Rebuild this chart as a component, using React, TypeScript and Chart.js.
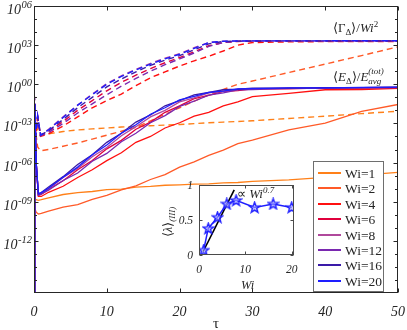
import React, { useEffect, useRef } from "react";
import { Chart, registerables } from "chart.js";

Chart.register(...registerables);

const FONT = '"Liberation Serif", "Times New Roman", serif';
const AXIS_COLOR = "#262626";

// ---- series meta ----
const wiValues = [1, 2, 4, 6, 8, 12, 16, 20];
const wiColors = ["#ff8019", "#ff5a28", "#ff1010", "#e0003c", "#b0489c", "#7a28b0", "#3a1aa8", "#1e1eff"];

// ---- solid curves: <E_Δ>/E_avg^(tot), stored as log10 values ----
const tauSolid = [0, 0.1, 0.3, 0.6, 1, 2, 4, 6, 8, 10, 12, 14, 16, 18, 20, 22, 24, 26, 28, 30, 35, 40, 45, 50];
const energyLog10Wi1 = [-8.6, -8.75, -8.85, -8.9, -8.85, -8.7, -8.45, -8.3, -8.22, -8.08, -8.03, -7.88, -7.83, -7.74, -7.71, -7.66, -7.63, -7.56, -7.53, -7.44, -7.33, -7.13, -6.96, -6.75];
const energyLog10Wi2 = [-9.0, -9.5, -9.8, -9.95, -9.9, -9.72, -9.42, -9.22, -8.82, -8.52, -8.1, -7.78, -7.3, -6.93, -6.35, -5.95, -5.45, -5.05, -4.55, -4.28, -3.5, -2.98, -2.08, -1.55];
const energyLog10Wi4 = [-17, -1.5, -6.0, -8.6, -8.6, -8.28, -7.82, -7.15, -6.55, -5.85, -5.25, -4.45, -4.0, -3.35, -2.95, -2.45, -2.15, -1.65, -1.35, -0.95, -0.7, -0.42, -0.4, -0.32];
const energyLog10Wi6 = [-17, -1.5, -6.0, -8.5, -8.45, -8.05, -7.4, -6.55, -5.85, -4.95, -4.3, -3.45, -2.9, -2.15, -1.65, -1.1, -0.85, -0.55, -0.48, -0.36, -0.35, -0.28, -0.3, -0.26];
const energyLog10Wi8 = [-17, -1.5, -6.0, -8.5, -8.4, -8.02, -7.15, -6.45, -5.55, -4.85, -3.95, -3.25, -2.5, -2.0, -1.35, -1.05, -0.66, -0.55, -0.37, -0.37, -0.29, -0.3, -0.25, -0.24];
const energyLog10Wi12 = [-17, -1.5, -6.0, -8.5, -8.4, -8.12, -7.38, -6.8, -5.9, -5.3, -4.4, -3.75, -2.95, -2.4, -1.7, -1.3, -0.84, -0.66, -0.43, -0.4, -0.31, -0.32, -0.26, -0.25];
const energyLog10Wi16 = [-17, -1.5, -6.0, -8.4, -8.3, -7.88, -7.08, -6.15, -5.4, -4.45, -3.75, -2.9, -2.35, -1.65, -1.25, -0.82, -0.63, -0.42, -0.38, -0.3, -0.3, -0.25, -0.25, -0.22];
const energyLog10Wi20 = [-17, -1.5, -6.0, -8.4, -8.3, -7.97, -7.12, -6.35, -5.4, -4.65, -3.75, -3.1, -2.3, -1.8, -1.2, -0.93, -0.62, -0.52, -0.36, -0.34, -0.28, -0.28, -0.24, -0.22];

// ---- dashed curves: <Γ_Δ>/Wi^2, stored as log10 values ----
const tauDashed = [0, 0.2, 0.5, 0.9, 2, 4, 6, 8, 10, 12, 14, 16, 18, 20, 22, 24, 26, 28, 30, 35, 40, 45, 50];
const gammaLog10Wi1 = [-0.8, -2.5, -3.6, -3.9, -3.8, -3.62, -3.5, -3.42, -3.35, -3.28, -3.22, -3.18, -3.13, -3.08, -3.02, -2.95, -2.9, -2.85, -2.8, -2.62, -2.45, -2.25, -2.07];
const gammaLog10Wi2 = [-1.5, -3.5, -4.8, -5.1, -5.0, -4.75, -4.5, -4.2, -3.9, -3.6, -3.3, -2.8, -2.3, -1.8, -1.3, -0.8, -0.4, 0.0, 0.25, 0.9, 1.55, 2.2, 2.87];
const gammaLog10Wi4 = [0, -4.1, -2.6, -4.0, -3.8, -3.2, -2.5, -1.8, -1.25, -0.75, -0.1, 0.5, 0.95, 1.4, 1.8, 2.15, 2.55, 3.0, 3.2, 3.25, 3.27, 3.27, 3.28];
const gammaLog10Wi6 = [0, -4.0, -2.5, -3.95, -3.6, -2.85, -2.0, -1.25, -0.5, 0.15, 0.7, 1.2, 1.65, 2.05, 2.5, 2.95, 3.2, 3.28, 3.3, 3.31, 3.31, 3.32, 3.32];
const gammaLog10Wi8 = [0, -4.0, -2.4, -3.9, -3.45, -2.5, -1.6, -0.75, 0.05, 0.65, 1.15, 1.6, 2.0, 2.35, 2.8, 3.2, 3.3, 3.31, 3.32, 3.33, 3.33, 3.33, 3.33];
const gammaLog10Wi12 = [0, -4.0, -2.5, -3.95, -3.7, -3.0, -2.2, -1.5, -0.8, -0.15, 0.45, 1.0, 1.5, 1.95, 2.4, 2.9, 3.2, 3.3, 3.31, 3.32, 3.32, 3.32, 3.32];
const gammaLog10Wi16 = [0, -4.0, -2.5, -3.9, -3.55, -2.7, -1.8, -1.0, -0.2, 0.4, 0.95, 1.45, 1.85, 2.2, 2.65, 3.1, 3.28, 3.31, 3.32, 3.33, 3.33, 3.33, 3.33];
const gammaLog10Wi20 = [0, -4.0, -2.4, -3.9, -3.5, -2.55, -1.6, -0.8, 0.0, 0.6, 1.1, 1.55, 1.95, 2.3, 2.75, 3.2, 3.3, 3.32, 3.33, 3.33, 3.33, 3.34, 3.34];

const energyLog10 = [energyLog10Wi1, energyLog10Wi2, energyLog10Wi4, energyLog10Wi6, energyLog10Wi8, energyLog10Wi12, energyLog10Wi16, energyLog10Wi20];
const gammaLog10 = [gammaLog10Wi1, gammaLog10Wi2, gammaLog10Wi4, gammaLog10Wi6, gammaLog10Wi8, gammaLog10Wi12, gammaLog10Wi16, gammaLog10Wi20];

// ---- main axes ----
const xTicks = [0, 10, 20, 30, 40, 50];
const yLabelExponents = [-12, -9, -6, -3, 0, 3, 6];
const yMinorExponents = [-15, -14, -13, -11, -10, -8, -7, -5, -4, -2, -1, 1, 2, 4, 5];

// ---- inset ----
const insetWi = [1, 2, 4, 6, 8, 12, 16, 20];
const insetLambda = [0.07, 0.38, 0.54, 0.73, 0.78, 0.68, 0.73, 0.68];
const fitWi = [0.9, 7.6];
const fitLambda = [0.05, 0.93];
const insetXTicks = [0, 10, 20];
const insetYTicks = [0, 0.5, 1];
const insetYTickLabels = ["0", "0.5", "1"];

function toPoints(xs: number[], logs: number[]) {
  return xs.map((x, i) => ({ x, y: Math.pow(10, logs[i]) }));
}

function expText(e: number) {
  const a = Math.abs(e);
  const s = (a < 10 ? "0" : "") + a;
  return e < 0 ? "-" + s : s;
}

const mainAxesPlugin = {
  id: "mainAxes",
  afterDraw(chart: any) {
    const { ctx, chartArea: a, scales } = chart;
    const xs = scales.x;
    const ys = scales.y;
    const L = Math.round(a.left) + 0.5;
    const R = Math.round(a.right) - 0.5;
    const T = Math.round(a.top) + 0.5;
    const B = Math.round(a.bottom) - 0.5;
    ctx.save();
    ctx.strokeStyle = AXIS_COLOR;
    ctx.lineWidth = 1;
    ctx.strokeRect(L, T, R - L, B - T);
    ctx.beginPath();
    xTicks.forEach((v) => {
      const px = Math.round(xs.getPixelForValue(v)) + 0.5;
      ctx.moveTo(px, B);
      ctx.lineTo(px, B - 4);
      ctx.moveTo(px, T);
      ctx.lineTo(px, T + 4);
    });
    yLabelExponents.forEach((e) => {
      const py = Math.round(ys.getPixelForValue(Math.pow(10, e))) + 0.5;
      ctx.moveTo(L, py);
      ctx.lineTo(L + 4, py);
      ctx.moveTo(R, py);
      ctx.lineTo(R - 4, py);
    });
    yMinorExponents.forEach((e) => {
      const py = Math.round(ys.getPixelForValue(Math.pow(10, e))) + 0.5;
      ctx.moveTo(L, py);
      ctx.lineTo(L + 2.5, py);
      ctx.moveTo(R, py);
      ctx.lineTo(R - 2.5, py);
    });
    ctx.stroke();

    ctx.fillStyle = AXIS_COLOR;
    ctx.textBaseline = "alphabetic";
    ctx.font = `italic 14px ${FONT}`;
    ctx.textAlign = "center";
    xTicks.forEach((v) => {
      ctx.fillText(String(v), xs.getPixelForValue(v), 316);
    });
    yLabelExponents.forEach((e) => {
      const py = ys.getPixelForValue(Math.pow(10, e));
      const es = expText(e);
      ctx.font = `italic 10.5px ${FONT}`;
      const we = ctx.measureText(es).width;
      ctx.textAlign = "left";
      const ex = a.left - 2 - we;
      ctx.fillText(es, ex, py + 2);
      ctx.font = `italic 14px ${FONT}`;
      const wb = ctx.measureText("10").width;
      ctx.fillText("10", ex - wb - 0.5, py + 8);
    });
    ctx.font = `15px ${FONT}`;
    ctx.textAlign = "center";
    ctx.fillText("τ", (a.left + a.right) / 2, 328);
    ctx.restore();
  },
};

const insetAxesPlugin = {
  id: "insetAxes",
  beforeDatasetsDraw(chart: any) {
    const { ctx, chartArea: a } = chart;
    ctx.save();
    ctx.fillStyle = "#ffffff";
    ctx.fillRect(a.left, a.top, a.right - a.left, a.bottom - a.top);
    ctx.restore();
  },
  afterDraw(chart: any) {
    const { ctx, chartArea: a, scales } = chart;
    const xs = scales.x;
    const ys = scales.y;
    const L = Math.round(a.left) + 0.5;
    const R = Math.round(a.right) - 0.5;
    const T = Math.round(a.top) + 0.5;
    const B = Math.round(a.bottom) - 0.5;
    ctx.save();
    ctx.strokeStyle = "#4a4a4a";
    ctx.lineWidth = 1;
    ctx.strokeRect(L, T, R - L, B - T);
    ctx.beginPath();
    insetXTicks.forEach((v) => {
      const px = Math.round(xs.getPixelForValue(v)) + 0.5;
      ctx.moveTo(px, B);
      ctx.lineTo(px, B - 3);
      ctx.moveTo(px, T);
      ctx.lineTo(px, T + 3);
    });
    insetYTicks.forEach((v) => {
      const py = Math.round(ys.getPixelForValue(v)) + 0.5;
      ctx.moveTo(L, py);
      ctx.lineTo(L + 3, py);
      ctx.moveTo(R, py);
      ctx.lineTo(R - 3, py);
    });
    ctx.stroke();
    ctx.fillStyle = AXIS_COLOR;
    ctx.font = `italic 11.5px ${FONT}`;
    ctx.textAlign = "center";
    ctx.textBaseline = "alphabetic";
    insetXTicks.forEach((v) => {
      ctx.fillText(String(v), xs.getPixelForValue(v), 273);
    });
    ctx.textAlign = "right";
    insetYTicks.forEach((v, i) => {
      ctx.fillText(insetYTickLabels[i], a.left - 6, ys.getPixelForValue(v) + 4);
    });
    ctx.restore();
  },
};

function makeStar(color: string) {
  const c = document.createElement("canvas");
  c.width = 13;
  c.height = 13;
  const g = c.getContext("2d")!;
  const cx = 6.5, cy = 6.8, ro = 5.6, ri = 2.3;
  g.beginPath();
  for (let k = 0; k < 10; k++) {
    const r = k % 2 === 0 ? ro : ri;
    const ang = -Math.PI / 2 + (k * Math.PI) / 5;
    const px = cx + r * Math.cos(ang);
    const py = cy + r * Math.sin(ang);
    if (k === 0) g.moveTo(px, py);
    else g.lineTo(px, py);
  }
  g.closePath();
  g.fillStyle = "rgba(170,170,255,0.6)";
  g.fill();
  g.strokeStyle = color;
  g.lineWidth = 1.4;
  g.stroke();
  return c;
}

const legendRowTops = [173, 188.4, 203.8, 219.2, 234.6, 250, 265.4, 280.8];

export default function App() {
  const mainRef = useRef<HTMLCanvasElement>(null);
  const insetRef = useRef<HTMLCanvasElement>(null);

  useEffect(() => {
    document.body.style.margin = "0";
    const datasets: any[] = [];
    wiValues.forEach((wi, i) => {
      datasets.push({
        label: `E Wi=${wi}`,
        data: toPoints(tauSolid, energyLog10[i]),
        borderColor: wiColors[i],
        borderWidth: 1.3,
        pointRadius: 0,
        fill: false,
      });
      datasets.push({
        label: `Gamma Wi=${wi}`,
        data: toPoints(tauDashed, gammaLog10[i]),
        borderColor: wiColors[i],
        borderWidth: 1.4,
        borderDash: [6, 4],
        pointRadius: 0,
        fill: false,
      });
    });
    datasets.reverse();

    const main = new Chart(mainRef.current!, {
      type: "line",
      data: { datasets },
      options: {
        responsive: false,
        animation: false,
        layout: { padding: { left: 34, right: 9, top: 6, bottom: 37 } },
        plugins: { legend: { display: false }, tooltip: { enabled: false } },
        elements: { line: { tension: 0 } },
        scales: {
          x: { type: "linear", min: 0, max: 50, display: false },
          y: { type: "logarithmic", min: 1e-16, max: 1e6, display: false },
        },
      },
      plugins: [mainAxesPlugin],
    });

    const star = makeStar("#1e1eff");
    const inset = new Chart(insetRef.current!, {
      type: "line",
      data: {
        datasets: [
          {
            label: "lambda",
            data: insetWi.map((w, i) => ({ x: w, y: insetLambda[i] })),
            borderColor: "#1e1eff",
            borderWidth: 1.5,
            pointStyle: star as any,
            pointRadius: 5,
            fill: false,
          },
          {
            label: "fit",
            data: fitWi.map((w, i) => ({ x: w, y: fitLambda[i] })),
            borderColor: "#000000",
            borderWidth: 1.6,
            pointRadius: 0,
            fill: false,
          },
        ],
      },
      options: {
        responsive: false,
        animation: false,
        layout: { padding: { left: 199, right: 113, top: 185, bottom: 75 } },
        plugins: { legend: { display: false }, tooltip: { enabled: false } },
        elements: { line: { tension: 0 } },
        scales: {
          x: { type: "linear", min: 0, max: 20.5, display: false },
          y: { type: "linear", min: 0, max: 1, display: false },
        },
      },
      plugins: [insetAxesPlugin],
    });

    return () => {
      main.destroy();
      inset.destroy();
    };
  }, []);

  const textBase: React.CSSProperties = {
    position: "absolute",
    fontFamily: FONT,
    color: AXIS_COLOR,
    whiteSpace: "nowrap",
    lineHeight: "14px",
  };

  return (
    <div style={{ position: "relative", width: 407, height: 330, background: "#fff", overflow: "hidden" }}>
      <canvas ref={mainRef} width={407} height={330} style={{ position: "absolute", left: 0, top: 0, width: 407, height: 330 }} />
      <canvas ref={insetRef} width={407} height={330} style={{ position: "absolute", left: 0, top: 0, width: 407, height: 330 }} />

      <div style={{ ...textBase, left: 333, top: 21, fontSize: 13 }}>
        ⟨Γ<span style={{ fontSize: 9, position: "relative", top: 3 }}>Δ</span>⟩/<i>Wi</i>
        <span style={{ fontSize: 9, position: "relative", top: -5 }}>2</span>
      </div>
      <div style={{ ...textBase, left: 333, top: 70, fontSize: 13 }}>
        ⟨<i>E</i><span style={{ fontSize: 9, position: "relative", top: 3 }}>Δ</span>⟩/<i>E</i>
        <span style={{ display: "inline-block", position: "relative", width: 24, height: 14, verticalAlign: "top" }}>
          <i style={{ position: "absolute", left: 0, top: -6, fontSize: 9 }}>(tot)</i>
          <i style={{ position: "absolute", left: 0, top: 4, fontSize: 9 }}>avg</i>
        </span>
      </div>

      <div style={{ ...textBase, left: 237, top: 187, fontSize: 13 }}>
        ∝ <i>Wi</i>
        <i style={{ fontSize: 9, position: "relative", top: -5 }}>0.7</i>
      </div>
      <div style={{ ...textBase, left: 241, top: 278, fontSize: 12.5 }}>
        <i>Wi</i>
      </div>
      <div
        style={{
          ...textBase,
          left: 168,
          top: 222,
          fontSize: 12.5,
          transform: "translate(-50%, -50%) rotate(-90deg)",
        }}
      >
        ⟨<i>λ</i>⟩<i style={{ fontSize: 9, position: "relative", top: 3 }}>(III)</i>
      </div>

      <div
        style={{
          position: "absolute",
          left: 313,
          top: 161,
          width: 71,
          height: 131,
          boxSizing: "border-box",
          border: "1px solid #6e6e6e",
          background: "#ffffff",
        }}
      >
        {wiValues.map((wi, i) => (
          <div key={wi}>
            <div
              style={{
                position: "absolute",
                left: 4,
                top: Math.round(legendRowTops[i] - 161 - 2),
                width: 23,
                height: 2,
                background: wiColors[i],
              }}
            />
            <div
              style={{
                ...textBase,
                left: 31,
                top: legendRowTops[i] - 161 - 8,
                fontSize: 13.5,
                lineHeight: "15px",
              }}
            >
              Wi={wi}
            </div>
          </div>
        ))}
      </div>
    </div>
  );
}
